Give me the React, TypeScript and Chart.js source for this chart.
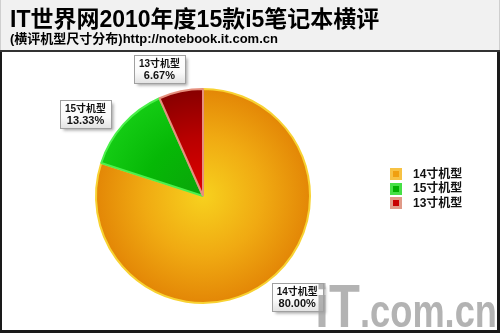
import React, { useEffect, useRef } from "react";
import { Chart, registerables } from "chart.js";

Chart.register(...registerables);

// ---- data ----
const categories = ["14寸机型", "15寸机型", "13寸机型"];
const shares = [80.0, 13.33, 6.67];
const percentLabels = ["80.00%", "13.33%", "6.67%"];
const titleText = "IT世界网2010年度15款i5笔记本横评";
const subtitleText = "(横评机型尺寸分布)http://notebook.it.com.cn";
const watermarkA = "iT";
const watermarkB = ".com.cn";

// ---- styles ----
const sliceCenter = ["#f7d11e", "#0aa40a", "#e20000"];
const sliceMid = ["#f0aa12", "#06b806", "#b80000"];
const sliceEdge = ["#e38606", "#14cc14", "#860000"];
const sliceBorder = ["#f8d232", "#4cf04c", "#e6907e"];
const legendOuter = ["#f7c244", "#46e046", "#e09a88"];
const legendInner = ["#f0a010", "#00b000", "#c80000"];

const FONT = '"Liberation Sans", Arial, "Noto Sans CJK SC", sans-serif';

const makeFill = (ctx: any) => {
  const chart = ctx.chart;
  const area = chart.chartArea;
  const i = ctx.dataIndex ?? 0;
  if (!area) return sliceMid[i];
  const cx = (area.left + area.right) / 2;
  const cy = (area.top + area.bottom) / 2;
  const r = Math.min(area.width, area.height) / 2;
  const g = chart.ctx.createRadialGradient(cx, cy, 0, cx, cy, r);
  g.addColorStop(0, sliceCenter[i]);
  g.addColorStop(0.55, sliceMid[i]);
  g.addColorStop(1, sliceEdge[i]);
  return g;
};

const decorPlugin = {
  id: "decor",
  beforeDraw(chart: any) {
    const c = chart.ctx as CanvasRenderingContext2D;
    const W = chart.width;
    const H = chart.height;
    c.save();
    c.fillStyle = "#ffffff";
    c.fillRect(0, 0, W, H);
    // header
    c.fillStyle = "#f1f1f1";
    c.fillRect(0, 0, W, 50);
    c.fillStyle = "#333333";
    c.fillRect(0, 50, W, 2);
    // frame
    c.fillStyle = "#1a1a1a";
    c.fillRect(0, 52, 2, H - 52);
    c.fillRect(W - 3, 52, 3, H - 52);
    c.fillRect(0, H - 3, W, 3);
    c.fillStyle = "#cfcfcf";
    c.fillRect(0, 0, 1, 50);
    c.fillRect(W - 1, 0, 1, 50);
    // titles
    c.fillStyle = "#000000";
    c.textBaseline = "alphabetic";
    c.textAlign = "left";
    c.font = `bold 23px ${FONT}`;
    c.fillText(titleText, 10, 27, 374);
    c.font = `bold 13px ${FONT}`;
    c.fillText(subtitleText, 10, 43, 268);
    c.restore();
  },
  afterDatasetsDraw(chart: any) {
    const c = chart.ctx as CanvasRenderingContext2D;
    const meta = chart.getDatasetMeta(0);
    const tilt = (-7 * Math.PI) / 180;
    c.save();
    meta.data.forEach((arc: any, i: number) => {
      const p = arc.getProps(["x", "y", "startAngle", "endAngle", "outerRadius"], true);
      const mid = (p.startAngle + p.endAngle) / 2 + tilt;
      const dx = Math.cos(mid);
      const dy = Math.sin(mid);
      c.font = `bold 10px ${FONT}`;
      const w1 = Math.min(c.measureText(categories[i]).width, 41);
      c.font = `bold 11px ${FONT}`;
      const w2 = c.measureText(percentLabels[i]).width;
      const bw = Math.round(Math.max(w1, w2) + 10);
      const bh = 28;
      const ext = Math.min(bw / 2 / Math.max(Math.abs(dx), 1e-6), bh / 2 / Math.max(Math.abs(dy), 1e-6));
      const d = p.outerRadius + 12 + ext;
      const cx = p.x + dx * d;
      const cy = p.y + dy * d;
      const left = Math.round(cx - bw / 2) + 0.5;
      const top = Math.round(cy - bh / 2) + 0.5;
      c.save();
      c.shadowColor = "rgba(0,0,0,0.35)";
      c.shadowOffsetX = 2;
      c.shadowOffsetY = 2;
      c.shadowBlur = 3;
      const g = c.createLinearGradient(0, top, 0, top + bh);
      g.addColorStop(0, "#ffffff");
      g.addColorStop(0.6, "#fafafa");
      g.addColorStop(1, "#e2e2e2");
      c.fillStyle = g;
      c.fillRect(left, top, bw, bh);
      c.restore();
      c.strokeStyle = "#a0a0a0";
      c.lineWidth = 1;
      c.strokeRect(left, top, bw, bh);
      c.fillStyle = "#111111";
      c.textAlign = "center";
      c.textBaseline = "middle";
      c.font = `bold 10px ${FONT}`;
      c.fillText(categories[i], cx, top + 8.5, 41);
      c.font = `bold 11px ${FONT}`;
      c.fillText(percentLabels[i], cx, top + 20);
    });
    c.restore();
  },
  afterDraw(chart: any) {
    const c = chart.ctx as CanvasRenderingContext2D;
    c.save();
    // legend
    categories.forEach((label, i) => {
      const y = 174 + i * 14.5;
      c.fillStyle = legendOuter[i];
      c.fillRect(390, Math.round(y - 6), 12, 12);
      c.fillStyle = legendInner[i];
      c.fillRect(393, Math.round(y - 3), 6, 6);
      c.fillStyle = "#111111";
      c.font = `bold 12px ${FONT}`;
      c.textAlign = "left";
      c.textBaseline = "middle";
      c.fillText(label, 413, y + 0.5, 53);
    });
    // watermark
    c.fillStyle = "rgba(160,160,160,0.8)";
    c.textBaseline = "alphabetic";
    c.textAlign = "left";
    c.font = `bold 62px ${FONT}`;
    c.fillText(watermarkA, 315, 327, 45);
    c.font = `bold 46px ${FONT}`;
    c.fillText(watermarkB, 360, 327, 137);
    c.restore();
  },
};

const App = () => {
  const ref = useRef<HTMLCanvasElement>(null);
  useEffect(() => {
    const canvas = ref.current;
    if (!canvas) return;
    const chart = new Chart(canvas, {
      type: "pie",
      data: {
        labels: categories,
        datasets: [
          {
            data: shares,
            backgroundColor: makeFill as any,
            borderColor: sliceBorder,
            borderWidth: 2,
          },
        ],
      },
      options: {
        responsive: false,
        animation: false,
        devicePixelRatio: 1,
        events: [],
        layout: { padding: { top: 88, bottom: 29, left: 95, right: 189 } },
        plugins: {
          legend: { display: false },
          tooltip: { enabled: false },
          title: { display: false },
        },
      } as any,
      plugins: [decorPlugin],
    });
    return () => chart.destroy();
  }, []);
  return (
    <div style={{ position: "absolute", left: 0, top: 0, width: 500, height: 333 }}>
      <canvas ref={ref} width={500} height={333} style={{ display: "block", width: 500, height: 333 }} />
    </div>
  );
};

export default App;
